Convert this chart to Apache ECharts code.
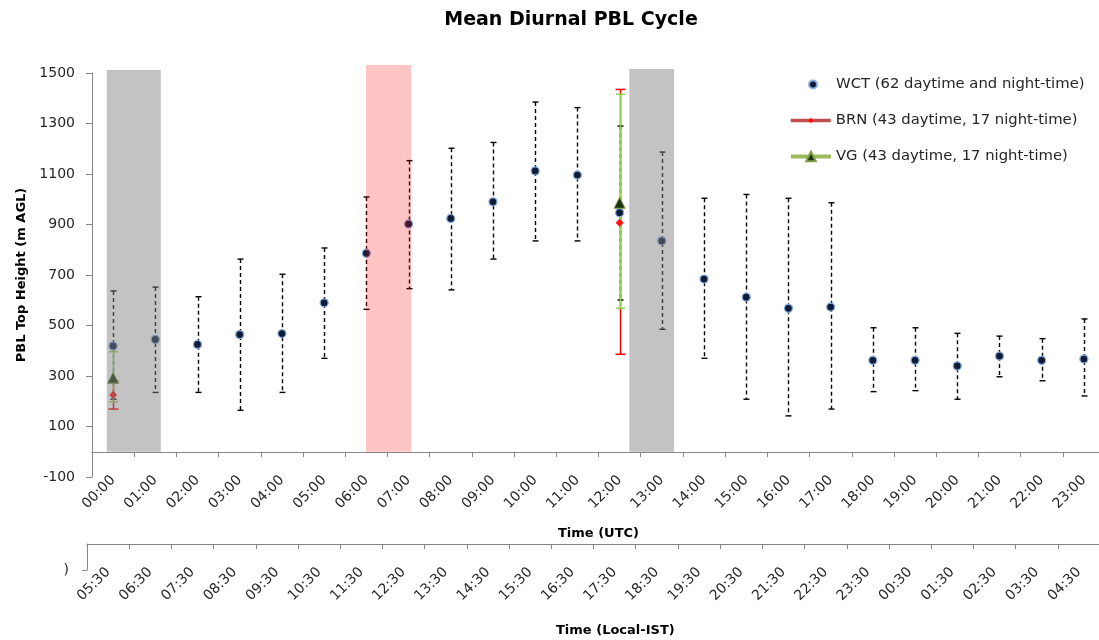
<!DOCTYPE html>
<html>
<head>
<meta charset="utf-8">
<script src="https://cdn.jsdelivr.net/npm/echarts@6/dist/echarts.min.js"></script>
<style>
html,body{margin:0;padding:0;background:#ffffff;}
#chart{width:1099px;height:640px;}
</style>
</head>
<body>
<div id="chart"></div>
<script>
// ---- data ----
const utcLabels = ['00:00','01:00','02:00','03:00','04:00','05:00','06:00','07:00','08:00','09:00','10:00','11:00',
                   '12:00','13:00','14:00','15:00','16:00','17:00','18:00','19:00','20:00','21:00','22:00','23:00'];
const istLabels = ['05:30','06:30','07:30','08:30','09:30','10:30','11:30','12:30','13:30','14:30','15:30','16:30',
                   '17:30','18:30','19:30','20:30','21:30','22:30','23:30','00:30','01:30','02:30','03:30','04:30'];

const wctMean  = [419,445,425,464,468,590,786,902,924,990,1112,1096,947,835,684,612,568,573,362,362,340,379,362,367];
const wctUpper = [637,652,614,763,703,807,1009,1153,1202,1225,1385,1363,1290,1187,1004,1019,1004,986,491,491,469,458,448,526];
const wctLower = [208,235,235,164,235,370,564,646,641,763,835,835,601,485,370,208,142,169,238,242,208,297,281,221];

const brnTimes = ['00:00','12:00'];
const brnMean  = [225, 907];
const brnUpper = [281, 1435];
const brnLower = [169, 386];

const vgTimes = ['00:00','12:00'];
const vgMean  = [293, 986];
const vgUpper = [396, 1416];
const vgLower = [198, 568];

// shaded periods (hours on the UTC axis) and their top value
const bandStart = [0.35, 6.49, 12.73];
const bandEnd   = [1.63, 7.56, 13.79];
const bandTop   = [1512, 1532, 1516];

const yMin = -100, yMax = 1500, yStep = 200;

const WCT_NAME = 'WCT (62 daytime and night-time)';
const BRN_NAME = 'BRN (43 daytime, 17 night-time)';
const VG_NAME  = 'VG (43 daytime, 17 night-time)';

// ---- chart ----
const FONT = 'DejaVu Sans';
const TXT = '#262626';
const AXIS = '#868686';

function errorBars(times, lower, upper, color, lw, cap, dash, z) {
  return {
    type: 'custom', xAxisIndex: 0, yAxisIndex: 0, z: z, silent: true,
    data: times.map((t, k) => [utcLabels.indexOf(t), lower[k], upper[k]]),
    encode: { x: 0, y: [1, 2] },
    renderItem: function (params, api) {
      const i = api.value(0);
      const top = api.coord([i, api.value(2)]);
      const bot = api.coord([i, api.value(1)]);
      const x = Math.round(top[0]) + 0.5;
      const st = { stroke: color, lineWidth: lw };
      return {
        type: 'group',
        children: [
          { type: 'line', shape: { x1: x, y1: top[1], x2: x, y2: bot[1] }, style: Object.assign({ lineDash: dash }, st) },
          { type: 'line', shape: { x1: x - cap / 2, y1: top[1], x2: x + cap / 2, y2: top[1] }, style: st },
          { type: 'line', shape: { x1: x - cap / 2, y1: bot[1], x2: x + cap / 2, y2: bot[1] }, style: st }
        ]
      };
    }
  };
}

const bandFill = ['rgba(128,128,128,0.47)', 'rgba(255,0,0,0.23)', 'rgba(128,128,128,0.47)'];

const labelStyle = { fontFamily: FONT, fontSize: 14, color: TXT };
const legendText = { fontFamily: FONT, fontSize: 14.8, color: TXT };
const nameStyle = { fontFamily: FONT, fontWeight: 'bold', fontSize: 13, color: '#000' };

const option = {
  animation: false,
  backgroundColor: '#ffffff',
  title: [
    { text: 'Mean Diurnal PBL Cycle', left: 571, textAlign: 'center', top: 11, padding: 0,
      textStyle: { fontFamily: FONT, fontWeight: 'bold', fontSize: 19, color: '#000' } },
    { text: 'Time (Local-IST)', left: 556, top: 624, padding: 0, textStyle: nameStyle }
  ],
  legend: [
    { data: [WCT_NAME], left: 808, top: 77, padding: 0, itemWidth: 8, itemHeight: 8, selectedMode: false,
      textStyle: Object.assign({ padding: [0, 0, 0, 14] }, legendText) },
    { data: [BRN_NAME], left: 789, top: 113, padding: 0, itemWidth: 40, itemHeight: 7, selectedMode: false,
      lineStyle: { color: '#C0504D', width: 3.5, opacity: 1 }, itemStyle: { color: '#FF1010' },
      textStyle: legendText },
    { data: [VG_NAME], left: 789, top: 149, padding: 0, itemWidth: 40, itemHeight: 12, selectedMode: false,
      lineStyle: { color: '#9BBB59', width: 4, opacity: 1 }, itemStyle: { color: '#1B3311' },
      textStyle: legendText }
  ],
  grid: [
    { left: 92, right: -6, top: 73, bottom: 163, outerBoundsMode: 'none', containLabel: false },
    { left: 92, right: -6, top: 451, height: 1, outerBoundsMode: 'none', containLabel: false },
    { left: 87, right: -1, top: 543, height: 1, outerBoundsMode: 'none', containLabel: false },
    { left: 87, width: 1, top: 544, height: 26, outerBoundsMode: 'none', containLabel: false }
  ],
  xAxis: [
    { type: 'category', gridIndex: 0, data: utcLabels, boundaryGap: true, show: false },
    { type: 'value', gridIndex: 0, min: 0, max: 24, show: false },
    { type: 'category', gridIndex: 1, data: utcLabels, boundaryGap: true, position: 'bottom',
      axisLine: { onZero: false, lineStyle: { color: AXIS, width: 1 } },
      axisTick: { show: true, length: 5, alignWithLabel: false, lineStyle: { color: AXIS } },
      axisLabel: Object.assign({ rotate: 45, interval: 0, margin: 26 }, labelStyle),
      splitLine: { show: false },
      name: 'Time (UTC)', nameLocation: 'middle', nameGap: 75, nameMoveOverlap: false,
      nameTextStyle: nameStyle },
    { type: 'category', gridIndex: 2, data: istLabels, boundaryGap: true, position: 'bottom',
      axisLine: { onZero: false, lineStyle: { color: AXIS, width: 1 } },
      axisTick: { show: true, length: 5, lineStyle: { color: AXIS } },
      axisLabel: Object.assign({ rotate: 45, interval: 0, margin: 26 }, labelStyle),
      splitLine: { show: false } },
    { type: 'value', gridIndex: 3, min: 0, max: 1, show: false }
  ],
  yAxis: [
    { type: 'value', gridIndex: 0, min: yMin, max: yMax, interval: yStep,
      axisLine: { show: true, onZero: false, lineStyle: { color: AXIS, width: 1 } },
      axisTick: { show: true, length: 6, lineStyle: { color: AXIS } },
      axisLabel: Object.assign({ margin: 17, formatter: function (v) { return String(v); } }, labelStyle),
      splitLine: { show: false },
      name: 'PBL Top Height (m AGL)', nameLocation: 'middle', nameGap: 64, nameMoveOverlap: false,
      nameTextStyle: nameStyle },
    { type: 'value', gridIndex: 1, min: 0, max: 1, show: false },
    { type: 'value', gridIndex: 2, min: 0, max: 1, show: false },
    { type: 'category', gridIndex: 3, data: [')', ''], boundaryGap: false,
      axisLine: { show: true, lineStyle: { color: AXIS, width: 1 } },
      axisTick: { show: true, length: 5, interval: function (i) { return i === 0; }, lineStyle: { color: AXIS } },
      axisLabel: Object.assign({ margin: 18, interval: function (i) { return i === 0; } }, labelStyle),
      splitLine: { show: false } }
  ],
  series: [
    errorBars(brnTimes, brnLower, brnUpper, '#FF0000', 1.5, 10, null, 2),
    errorBars(utcLabels, wctLower, wctUpper, '#000000', 1.4, 6, [4, 3], 3),
    errorBars(vgTimes, vgLower, vgUpper, '#92D050', 1.5, 9, null, 4),
    { type: 'scatter', name: WCT_NAME, xAxisIndex: 0, yAxisIndex: 0, z: 5,
      data: wctMean, symbol: 'circle', symbolSize: 8,
      itemStyle: { color: '#0E1C38', borderColor: '#86ABDD', borderWidth: 1.3, opacity: 1 } },
    { type: 'line', name: BRN_NAME, xAxisIndex: 0, yAxisIndex: 0, z: 6,
      data: brnTimes.map((t, k) => [t, brnMean[k]]),
      symbol: 'diamond', symbolSize: 8, showSymbol: true, showAllSymbol: true,
      lineStyle: { color: '#C0504D', width: 3, opacity: 0 },
      itemStyle: { color: '#FF1010', opacity: 1 } },
    { type: 'line', name: VG_NAME, xAxisIndex: 0, yAxisIndex: 0, z: 7,
      data: vgTimes.map((t, k) => [t, vgMean[k]]),
      symbol: 'triangle', symbolSize: 11, showSymbol: true, showAllSymbol: true,
      lineStyle: { color: '#9BBB59', width: 4, opacity: 0 },
      itemStyle: { color: '#1B3311', borderColor: '#7FA046', borderWidth: 1, opacity: 1 } },
    { type: 'custom', xAxisIndex: 1, yAxisIndex: 0, z: 10, silent: true,
      data: bandStart.map((s, k) => [s, bandEnd[k], bandTop[k], k]),
      encode: { x: [0, 1], y: 2 },
      renderItem: function (params, api) {
        const p0 = api.coord([api.value(0), api.value(2)]);
        const p1 = api.coord([api.value(1), 0]);
        return { type: 'rect',
          shape: { x: p0[0], y: p0[1], width: p1[0] - p0[0], height: p1[1] - p0[1] },
          style: { fill: bandFill[api.value(3)] } };
      } }
  ]
};

const chart = echarts.init(document.getElementById('chart'), null, { renderer: 'canvas' });
chart.setOption(option);
</script>
</body>
</html>
